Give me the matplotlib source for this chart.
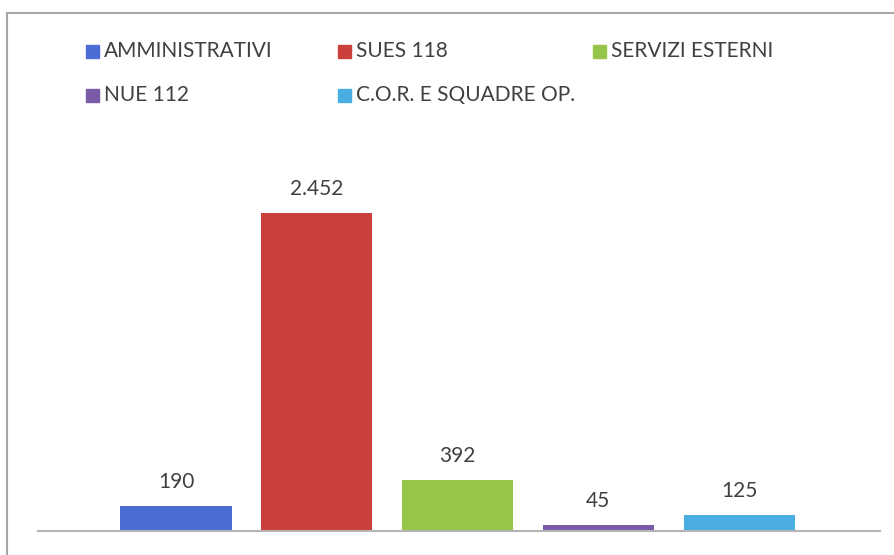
import matplotlib
matplotlib.use("Agg")
import matplotlib.pyplot as plt
from matplotlib.lines import Line2D
from matplotlib.patches import Rectangle

# ----- DATA -----
categories = ["AMMINISTRATIVI", "SUES 118", "SERVIZI ESTERNI", "NUE 112", "C.O.R. E SQUADRE OP."]
values = [190, 2452, 392, 45, 125]
labels = ["190", "2.452", "392", "45", "125"]
colors = ["#4A6CD4", "#CB3F3C", "#96C548", "#7B5BA8", "#4BAEE3"]

W, H = 895, 555
plt.rcParams['font.family'] = ['Lato', 'DejaVu Sans']

fig = plt.figure(figsize=(W / 100, H / 100), dpi=100)
fig.patch.set_facecolor("white")

# axes placed in pixel terms
ax = fig.add_axes([38 / W, (H - 531) / H, (880 - 38) / W, (531 - 142) / H])
x = list(range(len(values)))
bars = ax.bar(x, values, width=0.79, color=colors)
ax.set_xlim(-0.98, 5.0)
ax.set_ylim(0, 3000)
for s in ["top", "right", "left"]:
    ax.spines[s].set_visible(False)
ax.spines["bottom"].set_color("#B5B5B5")
ax.spines["bottom"].set_linewidth(1.5)
ax.set_xticks([])
ax.set_yticks([])

for b, lab in zip(bars, labels):
    ax.annotate(lab, (b.get_x() + b.get_width() / 2, b.get_height()),
                xytext=(0, 10), textcoords="offset points",
                ha="center", va="bottom", fontsize=15, color="#404040")

# legend laid out like the original (two rows, three columns)
leg_pos = [(86, 51), (338, 51), (593, 51), (86, 95), (338, 95)]
for (px, py), name, c in zip(leg_pos, categories, colors):
    fig.patches.append(Rectangle((px / W, (H - py - 6.5) / H), 13 / W, 13 / H,
                                 transform=fig.transFigure, color=c))
    fig.text((px + 18) / W, (H - py) / H, name, ha="left", va="center",
             fontsize=15, color="#404040")

# chart frame: only the top and left edges are visible in the scan
fig.lines.append(Line2D([7 / W, 1.0], [(H - 13) / H] * 2, transform=fig.transFigure,
                        color="#A8A8A8", linewidth=1.5))
fig.lines.append(Line2D([7 / W] * 2, [0.0, (H - 13) / H], transform=fig.transFigure,
                        color="#A8A8A8", linewidth=1.5))

fig.savefig("out.png", dpi=100)
